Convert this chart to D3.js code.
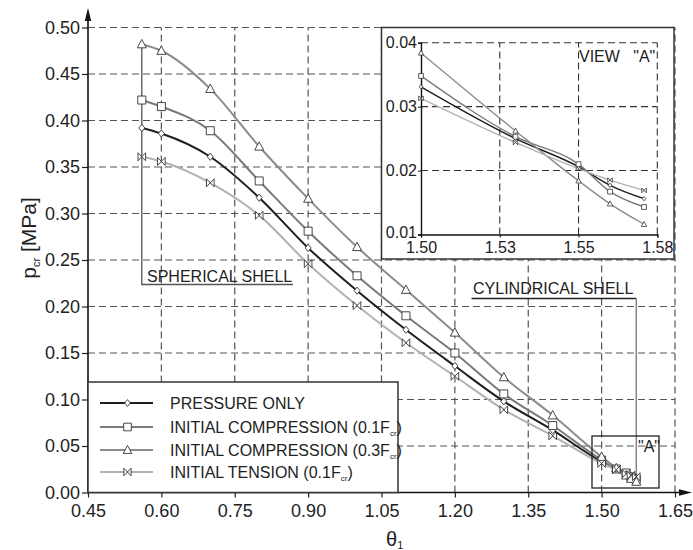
<!DOCTYPE html>
<html>
<head>
<meta charset="utf-8">
<script src="https://cdn.jsdelivr.net/npm/d3@7"></script>
<style>
  body { margin: 0; background: #fff; }
  svg text { font-family: "Liberation Sans", Arial, sans-serif; fill: #222; }
</style>
</head>
<body>
<svg id="chart" width="693" height="550"></svg>
<script>
// theta_1 values (last point is pi/2, the cylindrical shell)
const theta = [0.56, 0.60, 0.70, 0.80, 0.90, 1.00, 1.10, 1.20, 1.30, 1.40, 1.50, 1.53, 1.55, 1.56, 1.5708];

// critical pressure p_cr [MPa]
const pressureOnly  = [0.392, 0.386, 0.361, 0.317, 0.263, 0.217, 0.175, 0.136, 0.098, 0.067, 0.0331, 0.0250, 0.0206, 0.0177, 0.0156];
const compression01 = [0.422, 0.415, 0.389, 0.335, 0.281, 0.233, 0.190, 0.150, 0.106, 0.072, 0.0348, 0.0253, 0.0210, 0.0167, 0.0143];
const compression03 = [0.482, 0.475, 0.434, 0.372, 0.316, 0.264, 0.218, 0.172, 0.124, 0.083, 0.0384, 0.0262, 0.0184, 0.0148, 0.0116];
const tension01     = [0.361, 0.356, 0.333, 0.298, 0.246, 0.201, 0.161, 0.125, 0.089, 0.061, 0.0313, 0.0244, 0.0203, 0.0185, 0.0169];

const xTicks = [0.45, 0.60, 0.75, 0.90, 1.05, 1.20, 1.35, 1.50, 1.65];
const yTicks = [0.00, 0.05, 0.10, 0.15, 0.20, 0.25, 0.30, 0.35, 0.40, 0.45, 0.50];

const insetXTicks = [1.50, 1.525, 1.55, 1.575];
const insetXLabels = ["1.50", "1.53", "1.55", "1.58"];
const insetYTicks = [0.01, 0.02, 0.03, 0.04];

const series = [
  { name: "PRESSURE ONLY", sub: null, tail: "", values: pressureOnly, color: "#1e1e1e", marker: "diamond" },
  { name: "INITIAL COMPRESSION (0.1F", sub: "cr", tail: ")", values: compression01, color: "#7a7a7a", marker: "square" },
  { name: "INITIAL COMPRESSION (0.3F", sub: "cr", tail: ")", values: compression03, color: "#8c8c8c", marker: "triangle" },
  { name: "INITIAL TENSION (0.1F", sub: "cr", tail: ")", values: tension01, color: "#b2b2b2", marker: "bowtie" }
];

const markerPath = {
  diamond:  s => `M0,${-3.6*s}L${3*s},0L0,${3.6*s}L${-3*s},0Z`,
  square:   s => `M${-4*s},${-4*s}H${4*s}V${4*s}H${-4*s}Z`,
  triangle: s => `M0,${-4.8*s}L${4.5*s},${3.6*s}L${-4.5*s},${3.6*s}Z`,
  bowtie:   s => `M${-3.8*s},${-4*s}L${3.8*s},${4*s}V${-4*s}L${-3.8*s},${4*s}Z`
};

const svg = d3.select("#chart");

// ---------- main chart ----------
const x = d3.scaleLinear().domain([0.45, 1.65]).range([88, 675]);
const y = d3.scaleLinear().domain([0, 0.5]).range([492.5, 27.5]);

const grid = svg.append("g")
  .attr("stroke", "#555")
  .attr("stroke-width", 1.2)
  .attr("stroke-dasharray", "7,4");

grid.selectAll(".vg").data(xTicks.slice(1)).join("line")
  .attr("x1", d => x(d)).attr("x2", d => x(d))
  .attr("y1", y(0)).attr("y2", y(0.5));

grid.selectAll(".hg").data(yTicks.slice(1)).join("line")
  .attr("x1", x(0.45)).attr("x2", x(1.65))
  .attr("y1", d => y(d)).attr("y2", d => y(d));

const xAxis = svg.append("g")
  .attr("transform", `translate(0,${y(0)})`)
  .call(d3.axisBottom(x).tickValues(xTicks).tickFormat(d3.format(".2f")).tickSize(5).tickPadding(7));
const yAxis = svg.append("g")
  .attr("transform", `translate(${x(0.45)},0)`)
  .call(d3.axisLeft(y).tickValues(yTicks).tickFormat(d3.format(".2f")).tickSize(6).tickPadding(2));

[xAxis, yAxis].forEach(a => {
  a.select(".domain").remove();
  a.selectAll("line").attr("stroke", "#222").attr("stroke-width", 1.2);
  a.selectAll("text").style("font-size", "18px").attr("fill", "#222");
});

// axis lines with arrows
svg.append("line")
  .attr("x1", x(0.45)).attr("x2", 684).attr("y1", y(0)).attr("y2", y(0))
  .attr("stroke", "#111").attr("stroke-width", 1.6);
svg.append("path")
  .attr("d", `M692,${y(0)}L679,${y(0) - 3.2}L679,${y(0) + 3.2}Z`).attr("fill", "#111");
svg.append("line")
  .attr("x1", x(0.45)).attr("x2", x(0.45)).attr("y1", y(0)).attr("y2", 16)
  .attr("stroke", "#111").attr("stroke-width", 1.6);
svg.append("path")
  .attr("d", `M${x(0.45)},8L${x(0.45) - 3.2},21L${x(0.45) + 3.2},21Z`).attr("fill", "#111");

// axis titles
svg.append("text")
  .attr("transform", "translate(36,238) rotate(-90)")
  .attr("text-anchor", "middle")
  .style("font-size", "21px")
  .call(t => {
    t.append("tspan").text("p");
    t.append("tspan").attr("dy", 4).style("font-size", "11px").text("cr");
    t.append("tspan").attr("dy", -4).text(" [MPa]");
  });

svg.append("text")
  .attr("x", 386).attr("y", 546)
  .style("font-size", "20px")
  .call(t => {
    t.append("tspan").text("θ");
    t.append("tspan").attr("dy", 3).style("font-size", "11px").text("1");
  });

// curves
const line = (xs, ys) => d3.line()
  .x((d, i) => xs(theta[i]))
  .y(d => ys(d))
  .curve(d3.curveMonotoneX);

const drawSeries = (g, xs, ys, width, scale) => {
  series.forEach(s => {
    g.append("path")
      .datum(s.values)
      .attr("fill", "none")
      .attr("stroke", s.color)
      .attr("stroke-width", width)
      .attr("d", line(xs, ys));
  });
  series.forEach(s => {
    g.selectAll(null).data(s.values).join("path")
      .attr("transform", (d, i) => `translate(${xs(theta[i])},${ys(d)})`)
      .attr("d", markerPath[s.marker](scale))
      .attr("fill", "#fff")
      .attr("stroke", "#333")
      .attr("stroke-width", 0.9);
  });
};

// annotations (behind inset & legend)
const ann = svg.append("g");
ann.append("path")
  .attr("d", `M${x(0.56)},${y(0.482)}V284.5H293`)
  .attr("fill", "none").attr("stroke", "#555").attr("stroke-width", 1.3);
ann.append("text").attr("x", 147).attr("y", 282).style("font-size", "16px").text("SPHERICAL SHELL");

ann.append("path")
  .attr("d", `M471.5,298.5H${x(1.5708)}`)
  .attr("fill", "none").attr("stroke", "#222").attr("stroke-width", 1.3);
ann.append("path")
  .attr("d", `M${x(1.5708)},298.5V478`)
  .attr("fill", "none").attr("stroke", "#777").attr("stroke-width", 1.3);
ann.append("text").attr("x", 473).attr("y", 294).style("font-size", "16px").text("CYLINDRICAL SHELL");

const mainMarks = svg.append("g");
drawSeries(mainMarks, x, y, 2, 1);

// view "A" box
svg.append("rect")
  .attr("x", 592).attr("y", 436).attr("width", 67).attr("height", 52)
  .attr("fill", "none").attr("stroke", "#222").attr("stroke-width", 1.3);
svg.append("text").attr("x", 638).attr("y", 452).style("font-size", "16px").text('"A"');

// ---------- legend ----------
const legend = svg.append("g");
legend.append("rect")
  .attr("x", x(0.45)).attr("y", 382).attr("width", 310).attr("height", y(0) - 382)
  .attr("fill", "#fff").attr("stroke", "#333").attr("stroke-width", 1.5);

const legendRows = [403, 427, 450, 472];
series.forEach((s, i) => {
  const ly = legendRows[i];
  legend.append("line")
    .attr("x1", 100).attr("x2", 153).attr("y1", ly).attr("y2", ly)
    .attr("stroke", s.color).attr("stroke-width", 2);
  legend.append("path")
    .attr("transform", `translate(127.5,${ly})`)
    .attr("d", markerPath[s.marker](0.95))
    .attr("fill", "#fff").attr("stroke", "#333").attr("stroke-width", 0.9);
  const t = legend.append("text").attr("x", 170).attr("y", ly + 6).style("font-size", "16px");
  t.append("tspan").text(s.name);
  if (s.sub) {
    t.append("tspan").attr("dy", 3).style("font-size", "8px").text(s.sub);
    t.append("tspan").attr("dy", -3).text(s.tail);
  }
});

// ---------- inset (view "A") ----------
const inset = svg.append("g");
inset.append("rect")
  .attr("x", 381.5).attr("y", 27.5).attr("width", 292.5).attr("height", 231.5)
  .attr("fill", "#fff").attr("stroke", "#333").attr("stroke-width", 1.5);

const ix = d3.scaleLinear().domain([1.5, 1.575]).range([421, 657.3]);
const iy = d3.scaleLinear().domain([0.01, 0.04]).range([234.5, 42.7]);

const igrid = inset.append("g")
  .attr("stroke", "#333").attr("stroke-width", 1.1).attr("stroke-dasharray", "7,4");
igrid.selectAll(null).data(insetXTicks.slice(1)).join("line")
  .attr("x1", d => ix(d)).attr("x2", d => ix(d))
  .attr("y1", iy(0.01)).attr("y2", iy(0.04));
igrid.selectAll(null).data(insetYTicks.slice(1)).join("line")
  .attr("x1", ix(1.5)).attr("x2", ix(1.575))
  .attr("y1", d => iy(d)).attr("y2", d => iy(d));

const ixAxis = inset.append("g")
  .attr("transform", `translate(0,${iy(0.01)})`)
  .call(d3.axisBottom(ix).tickValues(insetXTicks).tickFormat((d, i) => insetXLabels[i]).tickSize(3).tickPadding(4));
const iyAxis = inset.append("g")
  .attr("transform", `translate(${ix(1.5)},0)`)
  .call(d3.axisLeft(iy).tickValues(insetYTicks).tickFormat(d3.format(".2f")).tickSize(3).tickPadding(1));
[ixAxis, iyAxis].forEach(a => {
  a.select(".domain").attr("stroke", "#111").attr("stroke-width", 1.4);
  a.selectAll("line").attr("stroke", "#111");
  a.selectAll("text").style("font-size", "16px").attr("fill", "#222");
});
// lift the lowest y label a little so it clears the x labels
iyAxis.selectAll(".tick").filter(d => d === 0.01).select("text").attr("dy", "0.2em");

inset.append("text")
  .attr("x", 579).attr("y", 62)
  .style("font-size", "16px").style("white-space", "pre")
  .text('VIEW   "A"');

const insetMarks = inset.append("g");
const idx = theta.map((t, i) => i).filter(i => theta[i] >= 1.5);
series.forEach(s => {
  insetMarks.append("path")
    .datum(idx)
    .attr("fill", "none")
    .attr("stroke", s.color)
    .attr("stroke-width", 1.4)
    .attr("d", d3.line().x(i => ix(theta[i])).y(i => iy(s.values[i])).curve(d3.curveMonotoneX));
});
series.forEach(s => {
  insetMarks.selectAll(null).data(idx).join("path")
    .attr("transform", i => `translate(${ix(theta[i])},${iy(s.values[i])})`)
    .attr("d", markerPath[s.marker](0.6))
    .attr("fill", "#fff").attr("stroke", "#333").attr("stroke-width", 0.8);
});
</script>
</body>
</html>
